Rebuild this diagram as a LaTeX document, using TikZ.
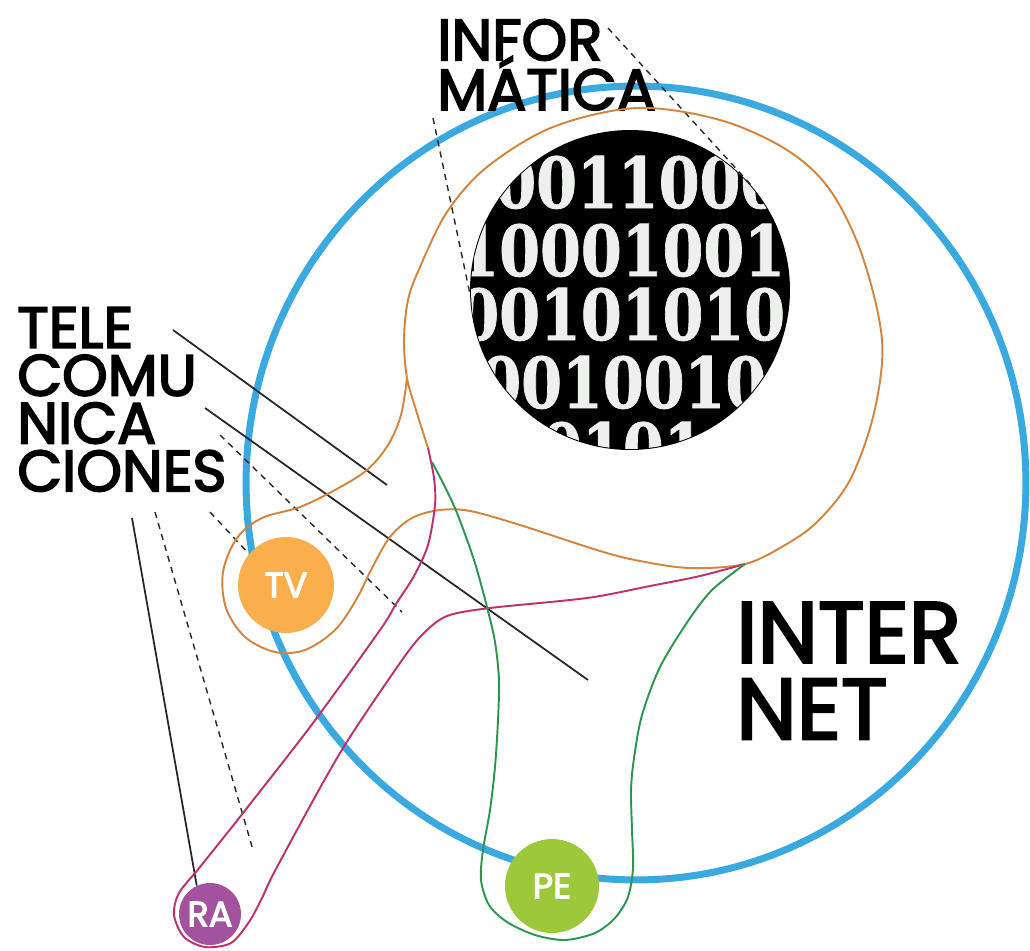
\documentclass[tikz,border=0pt]{standalone}
\usepackage{fontspec}
\usepackage{graphicx}
\newfontfamily\pop{Poppins}[FakeBold=3]
\newfontfamily\digi{DejaVu Serif}[FakeBold=1.2]
\definecolor{inetblue}{RGB}{57,169,224}
\definecolor{tvline}{RGB}{214,132,60}
\definecolor{raline}{RGB}{192,48,106}
\definecolor{peline}{RGB}{44,150,78}
\definecolor{tvfill}{RGB}{250,174,76}
\definecolor{rafill}{RGB}{163,82,158}
\definecolor{pefill}{RGB}{157,200,59}
\definecolor{digitwhite}{RGB}{238,240,238}
\tikzset{
  blueline/.style={draw=inetblue, line width=4pt},
  tvcurve/.style={draw=tvline, line width=1.1pt},
  racurve/.style={draw=raline, line width=1.1pt},
  pecurve/.style={draw=peline, line width=1.1pt},
  solidline/.style={draw=black!85, line width=1pt},
  dashline/.style={draw=black!85, line width=0.8pt, dash pattern=on 3.5pt off 3pt},
  lbl/.style={anchor=north west, inner sep=0pt, text=black, align=left},
  dot/.style={circle, inner sep=0pt, text=white, font={\pop\fontsize{20}{20}\selectfont}},
  digit/.style={anchor=base west, inner sep=0pt, text=digitwhite, font={\digi\bfseries\fontsize{40}{40}\selectfont}}
}
\begin{document}
\begin{tikzpicture}[x=0.02cm,y=-0.02cm]
\useasboundingbox (0,0) rectangle (1030,950);
% internet circle
\draw[blueline] (636,483) ellipse [x radius=7.8cm, y radius=7.94cm];
% binary disk
\node[circle, fill=black, minimum size=6.4cm, inner sep=0pt] (bin) at (630,290) {};
\begin{scope}
  \clip (630,290) circle [radius=3.18cm];
  \node[digit] (r1) at (495,208) {\scalebox{0.835}[1]{0011000}};
  \node[digit] (r2) at (458,276) {\scalebox{0.835}[1]{100010011}};
  \node[digit] (r3) at (458,340) {\scalebox{0.835}[1]{00101010101}};
  \node[digit] (r4) at (480,408) {\scalebox{0.835}[1]{00100101}};
  \node[digit] (r5) at (500,474) {\scalebox{0.835}[1]{101010}};
\end{scope}
% domain discs
\node[dot, fill=tvfill, minimum size=1.92cm] (tv) at (286,585) {TV};
\node[dot, fill=rafill, minimum size=1.24cm] (ra) at (210,914) {RA};
\node[dot, fill=pefill, minimum size=1.88cm] (pe) at (552,886) {PE};
% labels
\node[lbl, font={\pop\fontsize{33}{28.3}\selectfont\lineskiplimit=-60pt}] (inf) at (437,19) {INFOR\\MÁTICA};
\node[lbl, font={\pop\fontsize{33}{27.2}\selectfont\lineskiplimit=-60pt}] (tel) at (17,307) {TELE\\COMU\\NICA\\CIONES};
\node[lbl, font={\pop\fontsize{49}{43.6}\selectfont\lineskiplimit=-60pt}] (net) at (736,602) {INTER\\NET};
% pointer lines
\coordinate (ia) at (433,118);
\coordinate (ib) at (608,28);
\draw[dashline] (ia) -- (bin.181);
\draw[dashline] (ib) -- (bin.40);
\coordinate (ta1) at (173,330); \coordinate (ta2) at (387,485);
\coordinate (tb1) at (205,408); \coordinate (tb2) at (588,680);
\coordinate (tc1) at (220,435); \coordinate (tc2) at (402,612);
\coordinate (td1) at (210,512);
\coordinate (te1) at (155,512); \coordinate (te2) at (253,850);
\coordinate (tf1) at (132,518);
\draw[solidline] (ta1) -- (ta2);
\draw[solidline] (tb1) -- (tb2);
\draw[dashline] (tc1) -- (tc2);
\draw[dashline] (td1) -- (tv.140);
\draw[dashline] (te1) -- (te2);
\draw[solidline] (tf1) -- (ra.115);
% TV paddle (orange)
\draw[tvcurve] plot[smooth, tension=0.55] coordinates {
 (428,448) (416,410) (407,378) (404,340) (408,300) (420,267) (447,212)
 (487,167) (553,127) (637,108) (720,120) (787,150) (830,190) (862,255)
 (882,340) (874,413) (850,480) (817,522) (785,545) (745,564)
 (690,568) (640,561) (600,551) (520,525) (470,511) (440,510) (412,518)
 (390,537) (372,568) (356,600) (335,630) (305,650) (275,652) (245,637)
 (226,608) (223,572) (237,538) (262,518) (300,507) (335,490) (367,470)
 (388,445) (401,415) (407,378)};
% RA paddle (magenta)
\draw[racurve] plot[smooth, tension=0.5] coordinates {
 (428,448) (434,478) (435,505) (428,545) (414,576) (396,604) (380,630)
 (313,723) (243,813) (200,867) (179,893) (174,915) (184,937) (205,947)
 (231,943) (249,922) (262,898) (277,867) (340,753) (400,663) (423,634)
 (447,616) (490,608) (587,598) (650,586) (700,576) (745,564)};
% PE paddle (green)
\draw[pecurve] plot[smooth, tension=0.5] coordinates {
 (432,462) (445,487) (457,513) (474,560) (487,607) (495,642) (499,680)
 (498,720) (495,767) (490,810) (483,850) (481,880) (489,905) (507,922)
 (535,935) (565,940) (595,933) (615,918) (628,897) (633,868) (632,830)
 (631,790) (634,758) (642,715) (660,667) (688,621) (712,590) (745,564)};
\end{tikzpicture}
\end{document}
